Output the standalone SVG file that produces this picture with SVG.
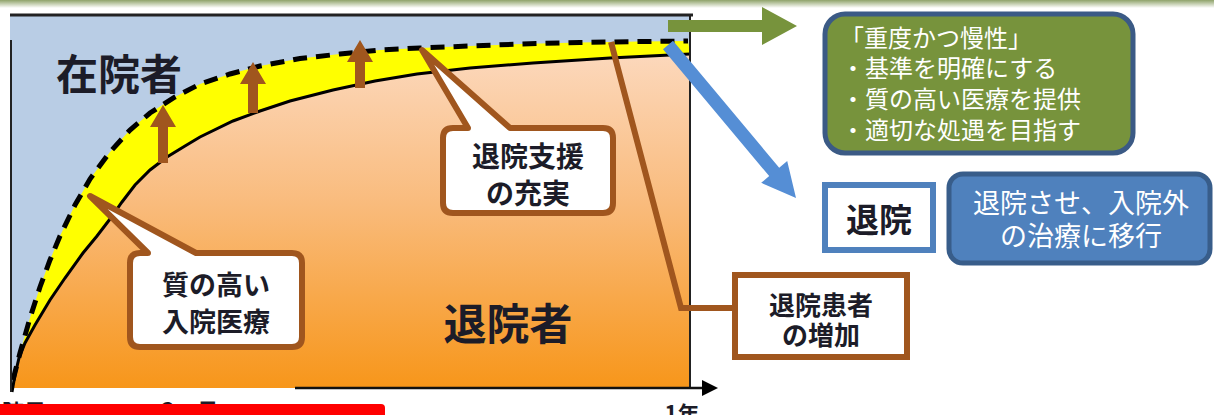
<svg xmlns="http://www.w3.org/2000/svg" width="1214" height="415" viewBox="0 0 1214 415">
<defs>
<linearGradient id="topband" x1="0" y1="0" x2="0" y2="1"><stop offset="0" stop-color="#8fa36a"/><stop offset="1" stop-color="#ffffff"/></linearGradient>
<linearGradient id="orange" x1="0" y1="54" x2="0" y2="388" gradientUnits="userSpaceOnUse"><stop offset="0" stop-color="#fcd8bc"/><stop offset="0.45" stop-color="#f9bb7c"/><stop offset="1" stop-color="#f7961a"/></linearGradient>
<style>
.jp{font-family:"Noto Sans CJK JP","Noto Sans CJK SC",sans-serif;}
.dark{fill:#1c1c28;font-weight:700;}
.white{fill:#ffffff;}
.brown{stroke:#a0561e;stroke-width:6;fill:#ffffff;stroke-linejoin:round;}
.uparrow{fill:#a0561e;}
</style>
</defs>
<rect x="0" y="0" width="1214" height="8" fill="url(#topband)"/>
<g id="chart">
<rect x="10" y="15" width="680" height="373" fill="#b9cde5"/>
<path d="M12,388 L12,392 L15,375 L19,358 L25,343 L35,325 L50,300 L65,278 L83,253 L97,236 L110,219 L122,202 L135,185 L150,170 L167,157 L185,146 L200,137 L233,121 L260,111 L290,101 L333,90 L375,81 L417,74 L470,68 L533,63 L610,58 L690,54 L690,388 Z" fill="url(#orange)"/>
<path d="M13,380 L20,353 L30,318 L40,287 L50,260 L60,236 L75,205 L90,179 L110,152 L130,130 L150,113 L175,97 L200,84 L230,74 L260,66 L300,58.5 L340,54 L380,50 L420,48 L470,46 L520,44 L580,42.5 L640,41.5 L688,41 L690,54 L610,58 L533,63 L470,68 L417,74 L375,81 L333,90 L290,101 L260,111 L233,121 L200,137 L185,146 L167,157 L150,170 L135,185 L122,202 L110,219 L97,236 L83,253 L65,278 L50,300 L35,325 L25,343 L19,358 L15,375 L12,392 Z" fill="#ffff00"/>
<polyline points="12,392 15,375 19,358 25,343 35,325 50,300 65,278 83,253 97,236 110,219 122,202 135,185 150,170 167,157 185,146 200,137 233,121 260,111 290,101 333,90 375,81 417,74 470,68 533,63 610,58 690,54" fill="none" stroke="#000" stroke-width="3"/>
<polyline points="13,380 20,353 30,318 40,287 50,260 60,236 75,205 90,179 110,152 130,130 150,113 175,97 200,84 230,74 260,66 300,58.5 340,54 380,50 420,48 470,46 520,44 580,42.5 640,41.5 688,41" fill="none" stroke="#000" stroke-width="5" stroke-dasharray="14 9"/>
<polygon class="uparrow" points="158,163 168,163 168,127 176,127 163,105 150,127 158,127"/>
<polygon class="uparrow" points="248,113 258,113 258,84 266,84 253,62 240,84 248,84"/>
<polygon class="uparrow" points="355,88 365,88 365,62 373,62 360,40 347,62 355,62"/>
<line x1="10" y1="15" x2="693" y2="15" stroke="#222" stroke-width="3"/>
<line x1="690" y1="15" x2="690" y2="388" stroke="#222" stroke-width="2"/>
<line x1="11" y1="40" x2="11" y2="392" stroke="#222" stroke-width="2"/>
<line x1="295" y1="388" x2="705" y2="388" stroke="#111" stroke-width="2.5"/>
<polygon points="702,380 718,388 702,396" fill="#000"/>
<text class="jp dark" x="119" y="71" font-size="42" text-anchor="middle" dominant-baseline="central">在院者</text>
<text class="jp dark" x="508" y="321" font-size="43" text-anchor="middle" dominant-baseline="central">退院者</text>
</g>
<g id="connectors">
<polyline points="611,42 681,308 735,308" fill="none" stroke="#a0561e" stroke-width="6" stroke-linejoin="miter"/>
<polygon points="668,20 762,20 762,7 797,26 762,45 762,32 668,32" fill="#77933c"/>
<polygon points="673,40.8 779.2,167.7 787.2,161 796,198 761.2,182.8 769.2,176.1 663,49.2" fill="#558ed5"/>
</g>
<g id="callout-quality">
<path class="brown" d="M140,253 L148,253 L90,196 L196,253 L292,253 Q302,253 302,263 L302,337 Q302,347 292,347 L140,347 Q130,347 130,337 L130,263 Q130,253 140,253 Z"/>
<text class="jp dark" x="216" y="283" font-size="27" text-anchor="middle" dominant-baseline="central">質の高い</text>
<text class="jp dark" x="216" y="320" font-size="27" text-anchor="middle" dominant-baseline="central">入院医療</text>
</g>
<g id="callout-support">
<path class="brown" d="M453,128 L468,128 L422,50 L510,128 L603,128 Q613,128 613,138 L613,203 Q613,213 603,213 L453,213 Q443,213 443,203 L443,138 Q443,128 453,128 Z"/>
<text class="jp dark" x="528" y="155" font-size="28" text-anchor="middle" dominant-baseline="central">退院支援</text>
<text class="jp dark" x="528" y="192" font-size="28" text-anchor="middle" dominant-baseline="central">の充実</text>
</g>
<g id="box-increase">
<rect x="735" y="275" width="172" height="82" fill="#ffffff" stroke="#a0561e" stroke-width="6"/>
<text class="jp dark" x="821" y="303" font-size="26" text-anchor="middle" dominant-baseline="central">退院患者</text>
<text class="jp dark" x="821" y="333" font-size="26" text-anchor="middle" dominant-baseline="central">の増加</text>
</g>
<g id="box-chronic">
<rect x="825" y="14" width="308" height="139" rx="20" fill="#77933c" stroke="#3b5a85" stroke-width="5"/>
<text class="jp white" x="840" y="36" font-size="24" dominant-baseline="central">「重度かつ慢性」</text>
<text class="jp white" x="841" y="66" font-size="24" dominant-baseline="central">・基準を明確にする</text>
<text class="jp white" x="841" y="97" font-size="24" dominant-baseline="central">・質の高い医療を提供</text>
<text class="jp white" x="841" y="128" font-size="24" dominant-baseline="central">・適切な処遇を目指す</text>
</g>
<g id="box-discharge">
<rect x="825" y="185" width="108" height="65" fill="#ffffff" stroke="#4f81bd" stroke-width="6"/>
<text class="jp dark" x="879" y="218" font-size="33" text-anchor="middle" dominant-baseline="central">退院</text>
</g>
<g id="box-outpatient">
<rect x="949" y="174" width="261" height="89" rx="14" fill="#4f81bd" stroke="#385d8a" stroke-width="5"/>
<text class="jp white" x="1081" y="201" font-size="27" text-anchor="middle" dominant-baseline="central">退院させ、入院外</text>
<text class="jp white" x="1081" y="234" font-size="27" text-anchor="middle" dominant-baseline="central">の治療に移行</text>
</g>
<g id="axis-labels">
<text class="jp dark" x="46" y="410" font-size="22" text-anchor="end" dominant-baseline="central">入院日</text>
<text class="jp dark" x="190" y="409" font-size="22" text-anchor="middle" dominant-baseline="central">3ヶ月</text>
<text class="jp dark" x="682" y="412" font-size="22" text-anchor="middle" dominant-baseline="central">1年</text>
</g>
<rect x="-10" y="404" width="395" height="20" rx="4" fill="#ff0000"/>
</svg>
